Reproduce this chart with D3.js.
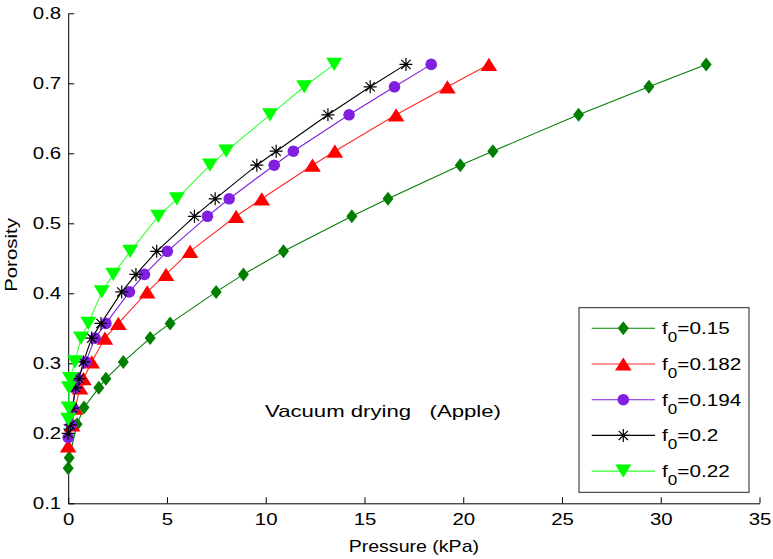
<!DOCTYPE html>
<html><head><meta charset="utf-8">
<script src="https://cdn.jsdelivr.net/npm/d3@7"></script>
<style>body{margin:0;background:#fff;}svg{display:block;font-family:"Liberation Sans",Arial,Helvetica,sans-serif;}</style>
</head><body>
<svg id="c" width="773" height="559"></svg>
<script>
const xTicks = [0,5,10,15,20,25,30,35];
const yTicks = [0.1,0.2,0.3,0.4,0.5,0.6,0.7,0.8];
const seriesNames = ["0.15","0.182","0.194","0.2","0.22"];
const s015_P   = [0,0.05,0.45,0.8,1.55,1.91,2.79,4.15,5.16,7.49,8.87,10.9,14.36,16.19,19.85,21.5,25.84,29.4,32.3];
const s015_phi = [0.15,0.165,0.213,0.237,0.265,0.278,0.302,0.336,0.357,0.402,0.427,0.46,0.51,0.535,0.583,0.603,0.655,0.695,0.727];
const s0182_P   = [0,0.2,0.35,0.6,0.77,1.19,1.86,2.54,4.0,4.95,6.17,8.5,9.8,12.37,13.5,16.6,19.2,21.3];
const s0182_phi = [0.182,0.212,0.236,0.265,0.278,0.302,0.336,0.357,0.402,0.427,0.46,0.51,0.535,0.583,0.603,0.655,0.695,0.727];
const s0194_P   = [0,0.15,0.25,0.35,0.46,0.89,1.36,1.91,3.1,3.86,5.02,7.05,8.15,10.43,11.4,14.22,16.52,18.38];
const s0194_phi = [0.194,0.212,0.236,0.265,0.278,0.302,0.336,0.357,0.402,0.427,0.46,0.51,0.535,0.583,0.603,0.655,0.695,0.727];
const s02_P   = [0,0.1,0.2,0.38,0.55,0.77,1.19,1.66,2.71,3.43,4.48,6.39,7.44,9.55,10.53,13.15,15.29,17.1];
const s02_phi = [0.2,0.212,0.236,0.265,0.278,0.302,0.336,0.357,0.402,0.427,0.46,0.51,0.535,0.583,0.603,0.655,0.695,0.727];
const s022_P   = [0,0.03,0.04,0.09,0.34,0.65,1.02,1.7,2.28,3.14,4.56,5.5,7.18,8.0,10.22,11.95,13.47];
const s022_phi = [0.22,0.236,0.265,0.278,0.302,0.336,0.357,0.402,0.427,0.46,0.51,0.535,0.583,0.603,0.655,0.695,0.727];

const svg=d3.select("#c");
const x=d3.scaleLinear().domain([0,35]).range([68.2,759.5]);
const y=d3.scaleLinear().domain([0.1,0.8]).range([503.3,13.3]);
const STRETCH=1.2;
function stretch(sel,k){
  sel.each(function(){
    const len=this.getComputedTextLength();
    d3.select(this).attr("textLength",len*k).attr("lengthAdjust","spacingAndGlyphs");
  });
}

const series=[
 {name:seriesNames[0],P:s015_P,phi:s015_phi,color:"#007f00",line:"#007f00",marker:"diamond"},
 {name:seriesNames[1],P:s0182_P,phi:s0182_phi,color:"#ff0000",line:"#ff2a2a",marker:"up"},
 {name:seriesNames[2],P:s0194_P,phi:s0194_phi,color:"#7f1fe0",line:"#7f1fe0",marker:"circle"},
 {name:seriesNames[3],P:s02_P,phi:s02_phi,color:"#000000",line:"#000000",marker:"star"},
 {name:seriesNames[4],P:s022_P,phi:s022_phi,color:"#00ff00",line:"#33ff33",marker:"down"}
];

function drawMarker(g,type,color,cx,cy){
  const m=g.append("g").attr("transform",`translate(${cx},${cy})`);
  if(type==="diamond") m.append("path").attr("d","M0,-7L5.5,0L0,7L-5.5,0Z").attr("fill",color);
  else if(type==="up") m.append("path").attr("d","M0,-6.6L8.3,6.6L-8.3,6.6Z").attr("fill",color);
  else if(type==="down") m.append("path").attr("d","M-8,-6.6L8,-6.6L0,6.6Z").attr("fill",color);
  else if(type==="circle") m.append("circle").attr("r",5.8).attr("fill",color);
  else if(type==="star") m.append("path").attr("d","M-6.5,0L6.5,0M0,-6.5L0,6.5M-4.6,-4.6L4.6,4.6M-4.6,4.6L4.6,-4.6").attr("stroke",color).attr("stroke-width",1.2).attr("fill","none");
}

// axes
const xAxis=d3.axisBottom(x).tickValues(xTicks).tickFormat(d3.format("d")).tickSizeInner(-6).tickSizeOuter(0).tickPadding(10);
const yAxis=d3.axisLeft(y).tickValues(yTicks).tickFormat(d3.format(".1f")).tickSizeInner(-6).tickSizeOuter(0).tickPadding(7);
const gx=svg.append("g").attr("transform",`translate(0,${y(0.1)})`).call(xAxis);
const gy=svg.append("g").attr("transform",`translate(${x(0)},0)`).call(yAxis);
[gx,gy].forEach(g=>{
  g.selectAll("text").attr("font-size",17).attr("fill","#000").attr("font-family","Liberation Sans, Arial, sans-serif");
  g.selectAll("line").attr("stroke","#000");
  g.select(".domain").attr("stroke","#000");
  stretch(g.selectAll("text"),STRETCH);
});

// series
const line=d3.line().x(d=>x(d[0])).y(d=>y(d[1]));
series.forEach(s=>{
  const pts=s.P.map((p,i)=>[p,s.phi[i]]);
  svg.append("path").datum(pts).attr("d",line).attr("fill","none").attr("stroke",s.line).attr("stroke-width",1.1);
});
series.forEach(s=>{
  const g=svg.append("g");
  s.P.forEach((p,i)=>drawMarker(g,s.marker,s.color,x(p),y(s.phi[i])));
});

// annotation
svg.append("text").attr("x",265).attr("y",417).attr("font-size",16.5).attr("fill","#000")
  .attr("xml:space","preserve").attr("textLength",236).attr("lengthAdjust","spacingAndGlyphs").text("Vacuum drying   (Apple)");

// axis labels
const xl=svg.append("text").attr("x",(x(0)+x(35))/2).attr("y",552).attr("text-anchor","middle").attr("font-size",17).text("Pressure (kPa)");
stretch(xl,1.15);
const yl=svg.append("text").attr("transform","translate(17,255) rotate(-90)").attr("text-anchor","middle").attr("font-size",17).text("Porosity");
stretch(yl,1.2);

// legend
const lg=svg.append("g");
lg.append("rect").attr("x",579).attr("y",307.7).attr("width",170).attr("height",184.6).attr("fill","#fff").attr("stroke","#222").attr("stroke-width",1);
series.forEach((s,i)=>{
  const cy=328.3+i*35.7;
  lg.append("line").attr("x1",591.7).attr("x2",655).attr("y1",cy).attr("y2",cy).attr("stroke",s.line).attr("stroke-width",1.1);
  drawMarker(lg,s.marker,s.color,623.3,cy);
  const tg=lg.append("g").attr("transform",`translate(662,${cy+6}) scale(1.22,1)`);
  const t=tg.append("text").attr("x",0).attr("y",0).attr("font-size",17);
  t.append("tspan").text("f");
  t.append("tspan").attr("dy",8).attr("font-size",14).text("0");
  t.append("tspan").attr("dy",-8).text("="+s.name);
});
</script>
</body></html>
